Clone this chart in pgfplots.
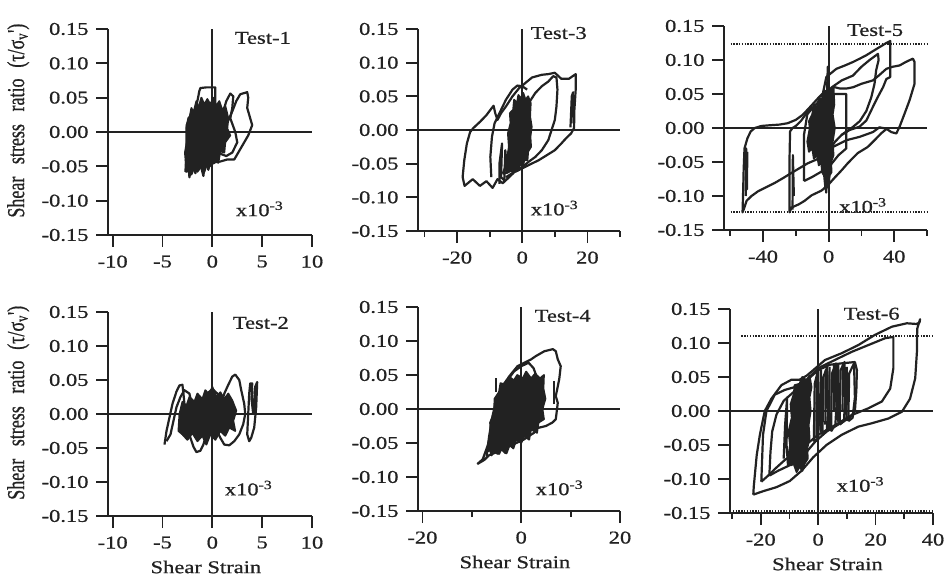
\documentclass[border=0pt]{standalone}
\usepackage{fontspec}
\setmainfont{Liberation Serif}[FakeStretch=1.25, FakeBold=0.8]
\newfontfamily\plainserif{Liberation Serif}[FakeBold=0.8]
\usepackage{graphicx}
\usepackage{pgfplots}
\pgfplotsset{compat=1.18}

\definecolor{ink}{HTML}{222222}
\newcommand\lab{\fontsize{18}{21}\selectfont}

\pgfplotsset{
  panel/.style={
    scale only axis,
    axis x line*=bottom, axis y line*=left,
    axis line style={-, line width=1.8pt, color=ink},
    ymin=-0.15, ymax=0.15,
    ytick={-0.15,-0.10,-0.05,0,0.05,0.10,0.15},
    yticklabels={-0.15,-0.10,-0.05,0.00,0.05,0.10,0.15},
    tick align=outside,
    major tick length=12pt, minor tick length=6pt,
    every tick/.style={line width=1.8pt, color=ink},
    tick label style={font=\lab, text=ink},
    xticklabel style={yshift=-5pt},
    yticklabel style={xshift=-4pt},
    every axis y label/.style={at={(axis description cs:-0.44,0.555)}, rotate=90, anchor=center},
    every axis x label/.style={at={(axis description cs:0.48,0)}, anchor=center, yshift=-51pt},
    label style={font=\lab, text=ink},
    clip=false,
  },
  hyst/.style={ink, line width=2.2pt, line join=round, mark=none},
  core/.style={fill=ink, draw=ink, line width=1.8pt, line join=round, mark=none},
  refl/.style={ink, line width=1.8pt, mark=none},
  dots/.style={ink, line width=2pt, dash pattern=on 1.4pt off 1.4pt, mark=none},
}
\newcommand\ylab{\scalebox{1}[1.35]{\plainserif\lab Shear\hspace{0.7em}stress\hspace{0.7em}ratio\hspace{0.6em}(τ/σ\textsubscript{v}')}}

\begin{document}
\begin{tikzpicture}
\path[use as bounding box] (0pt,0pt) rectangle (946pt,-580pt);

% === Test-1 ===
\begin{axis}[panel, at={(108pt,-235pt)}, anchor=south west,
  width=204pt, height=206pt, xmin=-10.47, xmax=10,
  xtick={-10,-5,0,5,10}, xticklabels={-10,-5,0,5,10},
  ylabel={\ylab}]
\addplot[refl] coordinates {(0,-0.15) (0,0.15)};
\addplot[refl] coordinates {(-10.47,0) (10,0)};
\addplot[core] coordinates {(-2.6,-0.055) (-2.75,-0.03) (-2.5,-0.01) (-2.6,0.01) (-2.3,0.02) (-2.1,0.035) (-1.9,0.028) (-1.6,0.045) (-1.4,0.035) (-1.1,0.05) (-0.8,0.04) (-0.5,0.048) (-0.2,0.04) (0.1,0.05) (0.4,0.038) (0.7,0.045) (1.0,0.032) (1.3,0.038) (1.6,0.02) (1.5,0.005) (1.8,-0.005) (1.3,-0.015) (1.2,-0.03) (0.8,-0.028) (0.6,-0.045) (0.2,-0.04) (-0.1,-0.05) (-0.5,-0.045) (-0.8,-0.058) (-1.1,-0.05) (-1.5,-0.058) (-1.8,-0.052) (-2.1,-0.062) (-2.4,-0.055)} -- cycle;
\addplot[hyst] coordinates {(-2.7,-0.058) (-2.6,-0.03) (-2.6,0.005) (-2.4,0.02) (-1.8,0.03) (-1.5,0.045) (-1.3,0.06) (-1.2,0.064) (-0.6,0.065) (0.3,0.065) (0.3,0.04) (0.2,0.02) (0.5,0.0) (0.7,-0.02) (0.5,-0.035) (0.2,-0.045) (-0.5,-0.048) (-1.3,-0.05) (-2.0,-0.055) (-2.7,-0.058)};
\addplot[hyst] coordinates {(-0.3,-0.045) (0.4,-0.035) (1.0,-0.02) (1.4,0.01) (2.0,0.03) (2.4,0.045) (2.8,0.055) (3.5,0.058) (3.6,0.05) (3.5,0.035) (3.8,0.02) (4.0,0.01) (3.6,-0.005) (3.0,-0.02) (2.6,-0.03) (2.2,-0.04) (1.5,-0.04) (0.8,-0.043) (-0.3,-0.045)};
\addplot[hyst] coordinates {(0.5,-0.03) (0.9,0.0) (1.1,0.03) (1.4,0.045) (1.8,0.056) (2.1,0.052) (2.0,0.035) (1.8,0.02) (2.3,0.0) (2.5,-0.015) (2.0,-0.03) (1.4,-0.035) (0.5,-0.03)};
\addplot[hyst] coordinates {(-2.4,-0.045) (-2.3,-0.066) (-2.0,-0.04) (-1.7,-0.06) (-1.4,-0.035) (-0.9,-0.064) (-0.7,-0.04) (-0.4,-0.055) (0,-0.03)};
\node[anchor=west, font=\lab, text=ink, xshift=19pt] at (axis cs:0,0.137) {Test-1};
\node[anchor=west, font=\lab, text=ink, xshift=20pt] at (axis cs:0,-0.112) {x10\textsuperscript{-3}};
\end{axis}

% === Test-3 ===
\begin{axis}[panel, at={(418pt,-231pt)}, anchor=south west,
  width=202pt, height=202pt, xmin=-32, xmax=30,
  xtick={-20,0,20}, xticklabels={-20,0,20}, minor xtick={-30,-10,10,30}]
\addplot[refl] coordinates {(0,-0.15) (0,0.15)};
\addplot[refl] coordinates {(-32,0) (30,0)};
\addplot[core] coordinates {(-4.2,-0.062) (-4.6,-0.04) (-4.1,-0.025) (-4.4,-0.005) (-3.6,0.01) (-3.8,0.025) (-2.8,0.03) (-2.5,0.045) (-1.6,0.04) (-1.2,0.052) (-0.4,0.047) (0.3,0.055) (1.0,0.045) (1.8,0.05) (2.6,0.04) (2.4,0.02) (2.9,0.005) (2.5,-0.01) (2.7,-0.025) (1.8,-0.032) (1.6,-0.045) (0.6,-0.045) (0.2,-0.055) (-0.8,-0.05) (-1.3,-0.06) (-2.2,-0.055) (-2.8,-0.065) (-3.5,-0.058)} -- cycle;
\addplot[hyst] coordinates {(-2,-0.06) (-4,-0.07) (-6,-0.079) (-7.6,-0.073) (-9.1,-0.086) (-11,-0.076) (-13,-0.083) (-15.2,-0.073) (-17.7,-0.083) (-18.3,-0.07) (-17.8,-0.045) (-17,-0.02) (-16,-0.003) (-15,0.003) (-13,0.012) (-11,0.022) (-9.3,0.033) (-8.8,0.036) (-8.3,0.025) (-7.6,0.015) (-6.5,0.025) (-5,0.035) (-3,0.05) (-1,0.062) (1,0.07) (3,0.078) (4.5,0.08) (6,0.082) (8,0.083) (10,0.085) (12,0.076) (14.3,0.076) (16.4,0.083) (16.4,0.06) (16,0.03) (15.9,0.003) (15,-0.005) (13.5,-0.012) (12,-0.02) (10,-0.03) (8,-0.036) (5,-0.045) (2,-0.052) (0,-0.057) (-3,-0.064) (-5,-0.07)};
\addplot[hyst] coordinates {(-6,-0.065) (-4,-0.04) (-2,-0.01) (0,0.02) (2,0.04) (4,0.055) (6,0.065) (8,0.072) (9.5,0.08) (10.5,0.078) (10.8,0.06) (10.5,0.035) (10,0.015) (9,0.0) (8,-0.015) (6,-0.03) (4,-0.04) (2,-0.047) (0,-0.055) (-3,-0.06) (-6,-0.065)};
\addplot[hyst] coordinates {(-9.5,-0.07) (-9.8,-0.04) (-9.3,-0.01) (-8.5,0.01) (-7.5,0.02) (-6.5,0.03) (-5,0.045) (-3,0.06) (-1.5,0.066) (0,0.065) (1.5,0.06)};
\addplot[hyst] coordinates {(-7,-0.08) (-7,-0.05) (-6.2,-0.02) (-6.5,-0.07) (-5.5,-0.075) (-5.2,-0.03) (-4.6,-0.065)};
\addplot[hyst] coordinates {(14.8,0.004) (15.2,0.05) (15.6,0.056) (15.7,0.01)};
\node[anchor=west, font=\lab, text=ink, xshift=5pt] at (axis cs:0,0.144) {Test-3};
\node[anchor=west, font=\lab, text=ink, xshift=5pt] at (axis cs:0,-0.116) {x10\textsuperscript{-3}};
\end{axis}

% === Test-5 ===
\begin{axis}[panel, at={(724pt,-230pt)}, anchor=south west,
  width=203pt, height=204pt, xmin=-63.8, xmax=60,
  xtick={-40,0,40}, xticklabels={-40,0,40}, minor xtick={-60,-20,20,60}]
\addplot[refl] coordinates {(0,-0.15) (0,0.15)};
\addplot[refl] coordinates {(-63.8,0) (60,0)};
\addplot[dots] coordinates {(-59.8,0.123) (60,0.123)};
\addplot[dots] coordinates {(-59.8,-0.123) (60,-0.123)};
\addplot[core] coordinates {(-13,-0.02) (-11.5,0.0) (-12,0.01) (-10,0.02) (-9,0.035) (-7,0.03) (-6,0.045) (-4,0.042) (-3,0.055) (-1,0.05) (0,0.062) (1.5,0.055) (3,0.06) (3.5,0.035) (2.5,0.02) (3.8,0.0) (2.5,-0.02) (3,-0.04) (1.5,-0.05) (1.8,-0.065) (0.5,-0.07) (0,-0.09) (-1,-0.075) (-2,-0.09) (-2.8,-0.07) (-4,-0.065) (-4.5,-0.05) (-6,-0.055) (-7,-0.04) (-9,-0.045) (-10,-0.03) (-12,-0.035)} -- cycle;
\addplot[hyst] coordinates {(-2,-0.045) (-4.3,-0.043) (-8,-0.047) (-12.8,-0.052) (-17,-0.058) (-22.6,-0.066) (-28,-0.074) (-33,-0.081) (-38,-0.087) (-43,-0.093) (-47,-0.1) (-50,-0.107) (-51.5,-0.118) (-52.5,-0.124) (-52.2,-0.1) (-51.8,-0.06) (-51.3,-0.03) (-49.5,-0.015) (-47.5,-0.005) (-45,0.0) (-41,0.003) (-36,0.004) (-30,0.005) (-25,0.007) (-20,0.012) (-16,0.019) (-12.8,0.027) (-9,0.037) (-6,0.045) (-3,0.052) (0,0.057) (3.7,0.06) (7,0.058) (10.8,0.058) (15,0.06) (20,0.065) (27,0.07) (31,0.078) (35.2,0.087) (39,0.09) (43.3,0.092) (47,0.097) (51.4,0.102) (52.4,0.097) (52.4,0.065) (49.4,0.041) (46.3,0.021) (43.3,0.002) (41.3,-0.008) (38.2,-0.006) (35.2,-0.001) (31,0.001) (27,-0.006) (18.9,-0.013) (10.8,-0.018) (2.6,-0.028) (0,-0.035)};
\addplot[hyst] coordinates {(-4,0.045) (-1.4,0.075) (4.7,0.087) (10,0.092) (14.8,0.097) (19,0.102) (23,0.107) (27,0.113) (31.1,0.119) (35.2,0.125) (37.6,0.128) (37.6,0.1) (37.6,0.075) (35.2,0.072) (33.2,0.06) (30.1,0.046) (27,0.031) (23,0.011) (18.9,0.002) (12.8,-0.003) (8,-0.01) (4,-0.02) (1,-0.03)};
\addplot[hyst] coordinates {(-3,0.04) (2,0.06) (8,0.07) (14.8,0.077) (20,0.09) (25,0.1) (30.1,0.109) (30.5,0.1) (29,0.085) (28,0.065) (26,0.045) (23,0.025) (19,0.01) (14,0.0) (8,-0.01)};
\addplot[hyst] coordinates {(-10,0.03) (-14,0.02) (-17,0.01) (-20,0.003) (-22,0.0) (-23.5,-0.005) (-23.8,-0.04) (-23.8,-0.08) (-23.8,-0.124) (-22.6,-0.117) (-18,-0.112) (-14.6,-0.107) (-10.4,-0.099) (-4.3,-0.092) (0,-0.083) (3.7,-0.073) (8,-0.062) (11.6,-0.052) (17.7,-0.037) (23.8,-0.028) (28,-0.018) (32,-0.008) (36,0.0)};
\addplot[hyst] coordinates {(-15,-0.078) (-15,-0.01) (-13,0.02) (-9,0.032) (-4,0.043) (2,0.05) (10.8,0.05) (10.8,0.01) (10.8,-0.03) (6,-0.04) (1,-0.055) (-5,-0.065) (-10,-0.072) (-15,-0.078)};
\addplot[hyst] coordinates {(-50.6,-0.1) (-50.3,-0.03) (-49.8,-0.09) (-49.6,-0.035)};
\addplot[hyst] coordinates {(-22,-0.12) (-21.8,-0.04) (-21.2,-0.1)};
\addplot[hyst] coordinates {(-1,0.05) (-0.5,0.09) (0,0.05)};
\addplot[hyst] coordinates {(-2,-0.07) (-1.5,-0.095) (-1,-0.07) (0,-0.088) (0.5,-0.065)};
\node[anchor=west, font=\lab, text=ink, xshift=15pt] at (axis cs:0,0.144) {Test-5};
\node[anchor=west, font=\lab, text=ink, xshift=7pt] at (axis cs:0,-0.114) {x10\textsuperscript{-3}};
\end{axis}

% === Test-2 ===
\begin{axis}[panel, at={(108pt,-516pt)}, anchor=south west,
  width=204pt, height=204pt, xmin=-10.47, xmax=10,
  xtick={-10,-5,0,5,10}, xticklabels={-10,-5,0,5,10},
  ylabel={\ylab}, xlabel={Shear Strain}]
\addplot[refl] coordinates {(0,-0.15) (0,0.15)};
\addplot[refl] coordinates {(-10.47,0) (10,0)};
\addplot[core] coordinates {(-3.4,-0.025) (-3.3,0.0) (-3.0,0.018) (-2.6,0.012) (-2.3,0.025) (-1.8,0.018) (-1.5,0.03) (-1.0,0.022) (-0.7,0.035) (-0.3,0.028) (0.0,0.04) (0.4,0.025) (0.8,0.032) (1.2,0.022) (1.6,0.03) (2.0,0.02) (2.4,0.005) (2.1,-0.01) (2.3,-0.025) (1.7,-0.02) (1.3,-0.032) (0.8,-0.025) (0.3,-0.038) (-0.2,-0.03) (-0.6,-0.045) (-1.0,-0.032) (-1.5,-0.04) (-2.0,-0.028) (-2.5,-0.038) (-3.0,-0.03)} -- cycle;
\addplot[hyst] coordinates {(-4.8,-0.045) (-4.6,-0.025) (-4.3,-0.005) (-4.0,0.015) (-3.6,0.033) (-3.3,0.042) (-3.0,0.043) (-2.9,0.03) (-2.8,0.015) (-2.7,-0.005) (-2.5,-0.02) (-2.2,-0.01) (-2.0,0.0) (-1.5,0.005)};
\addplot[hyst] coordinates {(-4.6,-0.04) (-4.2,-0.03) (-3.9,-0.01) (-3.6,0.01) (-3.2,0.025) (-2.8,0.035) (-2.3,0.03) (-2.0,0.01)};
\addplot[hyst] coordinates {(-2.5,-0.02) (-2.2,-0.035) (-1.9,-0.048) (-1.6,-0.056) (-1.2,-0.054) (-0.9,-0.045) (-0.6,-0.03) (-0.3,-0.02)};
\addplot[hyst] coordinates {(0.3,-0.02) (0.8,0.01) (1.2,0.03) (1.6,0.043) (2.0,0.055) (2.3,0.058) (2.7,0.05) (2.9,0.035) (3.2,0.015) (3.3,0.0) (3.1,-0.015) (2.7,-0.03) (2.2,-0.04) (1.7,-0.046) (1.2,-0.045) (0.8,-0.035) (0.3,-0.02)};
\addplot[hyst] coordinates {(3.5,-0.03) (3.6,0.0) (3.7,0.03) (3.8,0.045) (4.0,0.045) (3.95,0.02) (4.1,0.0) (4.3,0.04) (4.5,0.047) (4.4,0.01) (4.2,-0.02) (3.9,-0.035) (3.7,-0.04) (3.5,-0.03)};
\addplot[hyst] coordinates {(-1.5,0.0) (-1.0,0.02) (-0.5,0.03) (0,0.037) (0.5,0.03) (1,0.02) (1.5,0.0)};
\node[anchor=west, font=\lab, text=ink, xshift=17pt] at (axis cs:0,0.134) {Test-2};
\node[anchor=west, font=\lab, text=ink, xshift=9pt] at (axis cs:0,-0.109) {x10\textsuperscript{-3}};
\end{axis}

% === Test-4 ===
\begin{axis}[panel, at={(418pt,-511pt)}, anchor=south west,
  width=202pt, height=204pt, xmin=-20.9, xmax=20,
  xtick={-20,0,20}, xticklabels={-20,0,20}, minor xtick={-10,10},
  xlabel={Shear Strain}]
\addplot[refl] coordinates {(0,-0.15) (0,0.15)};
\addplot[refl] coordinates {(-20.9,0) (20,0)};
\addplot[core] coordinates {(-6.8,-0.062) (-6.2,-0.04) (-6.3,-0.02) (-5.5,-0.005) (-5.4,0.015) (-4.5,0.025) (-4.2,0.038) (-3,0.035) (-2.5,0.048) (-1.5,0.042) (-0.8,0.05) (0.3,0.045) (1,0.055) (2,0.045) (2.8,0.052) (3.8,0.045) (4.6,0.05) (4.5,0.03) (4.9,0.015) (4.3,0.0) (4.6,-0.015) (3.5,-0.02) (3.2,-0.035) (2,-0.03) (1.6,-0.045) (0.6,-0.04) (0,-0.05) (-1,-0.045) (-1.6,-0.058) (-2.5,-0.052) (-3.2,-0.065) (-4.2,-0.058) (-4.8,-0.066) (-5.8,-0.06)} -- cycle;
\addplot[hyst] coordinates {(-8.9,-0.081) (-7.8,-0.074) (-6.8,-0.054) (-6.1,-0.035) (-5.5,-0.01) (-4.8,0.014) (-3.8,0.034) (-2.1,0.051) (-0.75,0.063) (2,0.073) (3,0.078) (4.7,0.085) (6.4,0.088) (7,0.085) (7.4,0.073) (8,0.063) (7.7,0.044) (7,0.019) (7.4,0.009) (7,-0.015) (6.3,-0.02) (5,-0.025) (3.3,-0.028) (2.6,-0.035) (1.5,-0.04) (0.5,-0.045) (-1,-0.05) (-2.5,-0.055) (-4,-0.06) (-5.5,-0.065) (-6.5,-0.068) (-7.5,-0.075) (-8.9,-0.081)};
\addplot[hyst] coordinates {(-7,-0.07) (-6.5,-0.04) (-5.8,-0.01) (-5,0.015) (-3.8,0.03) (-2.5,0.045) (-1.5,0.055) (0,0.063) (1.5,0.068) (2.5,0.06) (3,0.05)};
\addplot[hyst] coordinates {(-5.1,0.025) (-5.1,0.046)};
\addplot[hyst] coordinates {(6.7,0.007) (6.7,0.041)};
\addplot[hyst] coordinates {(-6.5,-0.055) (-6,-0.068) (-5.2,-0.05) (-4.5,-0.066) (-3.5,-0.05) (-3,-0.065) (-2,-0.045)};
\node[anchor=west, font=\lab, text=ink, xshift=10pt] at (axis cs:0,0.137) {Test-4};
\node[anchor=west, font=\lab, text=ink, xshift=11pt] at (axis cs:0,-0.116) {x10\textsuperscript{-3}};
\end{axis}

% === Test-6 ===
\begin{axis}[panel, at={(730pt,-513pt)}, anchor=south west,
  width=203pt, height=204pt, xmin=-30.7, xmax=40,
  xtick={-20,0,20,40}, xticklabels={-20,0,20,40}, minor xtick={-30,-10,10,30},
  xlabel={Shear Strain}]
\addplot[refl] coordinates {(0,-0.15) (0,0.15)};
\addplot[refl] coordinates {(-30.7,0) (40,0)};
\addplot[dots] coordinates {(-26.7,0.11) (40,0.11)};
\addplot[dots] coordinates {(-30.7,-0.147) (40,-0.147)};
\addplot[hyst] coordinates {(-22.6,-0.123) (-22.4,-0.11) (-21.4,-0.065) (-20.3,-0.035) (-18.6,0.0) (-16.3,0.018) (-12.8,0.038) (-9.3,0.046) (-6.5,0.046) (-4,0.052) (-2.3,0.058) (2.4,0.075) (8.2,0.085) (14,0.097) (19.8,0.112) (25.7,0.124) (30.9,0.129) (34.2,0.128) (35.3,0.13) (35.5,0.135) (34.5,0.121) (34.4,0.087) (33.8,0.048) (32,0.018) (29.2,-0.001) (24.5,-0.011) (18.7,-0.018) (14,-0.023) (8.2,-0.035) (2.9,-0.05) (-1.7,-0.068) (-5.8,-0.088) (-9.9,-0.103) (-14.5,-0.112) (-19.2,-0.118) (-22.6,-0.123)};
\addplot[hyst] coordinates {(-19.8,-0.104) (-19.2,-0.035) (-18,0.0) (-15.1,0.024) (-11.6,0.031) (-5.8,0.038) (0,0.063) (5.8,0.075) (11.7,0.087) (17.5,0.097) (23.3,0.107) (26.2,0.109) (26.2,0.063) (25.1,0.033) (22.2,0.014) (17.5,0.004) (11.7,-0.006) (5.8,-0.021) (0,-0.035) (-5.8,-0.055) (-11.6,-0.072) (-15,-0.085) (-17.4,-0.095) (-19.8,-0.104)};
\addplot[hyst] coordinates {(-17,-0.095) (-16.6,-0.06) (-16,-0.03) (-14.5,-0.005) (-12,0.015) (-8,0.03) (-4,0.045) (0,0.06) (4,0.068) (8,0.07) (12.8,0.072) (13.5,0.06) (13.3,0.03) (12.8,0.0) (11,-0.01) (7,-0.02) (3,-0.03) (-1,-0.045) (-5,-0.065) (-10,-0.08) (-14,-0.088) (-17,-0.095)};
\addplot[core] coordinates {(-10.5,-0.07) (-9.8,-0.05) (-10.3,-0.03) (-9.2,-0.01) (-9.6,0.01) (-8.5,0.025) (-8.2,0.038) (-6.5,0.04) (-5.5,0.05) (-4,0.045) (-3,0.052) (-2.3,0.035) (-3,0.02) (-2.6,0.0) (-3.3,-0.02) (-3,-0.04) (-3.8,-0.055) (-3.6,-0.07) (-4.8,-0.078) (-5.5,-0.088) (-6.5,-0.082) (-7.5,-0.09) (-8.5,-0.078) (-9.5,-0.08)} -- cycle;
\addplot[hyst] coordinates {(-1.5,-0.045) (-1.2,0.04) (0,0.06) (0.3,0.0) (0,-0.04) (-1.5,-0.045)};
\addplot[hyst] coordinates {(1.5,-0.035) (1.8,0.05) (3.2,0.065) (3.4,0.0) (3,-0.03) (1.5,-0.035)};
\addplot[hyst] coordinates {(4.5,-0.03) (4.8,0.055) (6.2,0.07) (6.4,0.01) (6,-0.02) (4.5,-0.03)};
\addplot[hyst] coordinates {(7.5,-0.02) (7.8,0.06) (9.2,0.072) (9.4,0.02) (9,-0.015) (7.5,-0.02)};
\addplot[hyst] coordinates {(10.5,-0.015) (10.8,0.055) (12.5,0.07) (12.8,0.02) (12,-0.01) (10.5,-0.015)};
\addplot[hyst] coordinates {(-0.6,-0.04) (-0.5,0.05) (0.9,-0.03) (1.0,0.06)};
\addplot[hyst] coordinates {(2.5,-0.02) (2.6,0.06) (3.9,-0.025) (4.0,0.065)};
\addplot[hyst] coordinates {(5.5,0.0) (5.5,0.068) (6.9,-0.015) (7.0,0.07)};
\addplot[hyst] coordinates {(8.5,0.0) (8.6,0.068) (9.9,-0.01) (10.0,0.065)};
\addplot[hyst] coordinates {(-12,-0.07) (-11.5,-0.02) (-10.8,0.02) (-11,-0.05) (-10.5,-0.08)};
\node[anchor=west, font=\lab, text=ink, xshift=22pt] at (axis cs:0,0.143) {Test-6};
\node[anchor=west, font=\lab, text=ink, xshift=15pt] at (axis cs:0,-0.108) {x10\textsuperscript{-3}};
\end{axis}
\end{tikzpicture}
\end{document}
